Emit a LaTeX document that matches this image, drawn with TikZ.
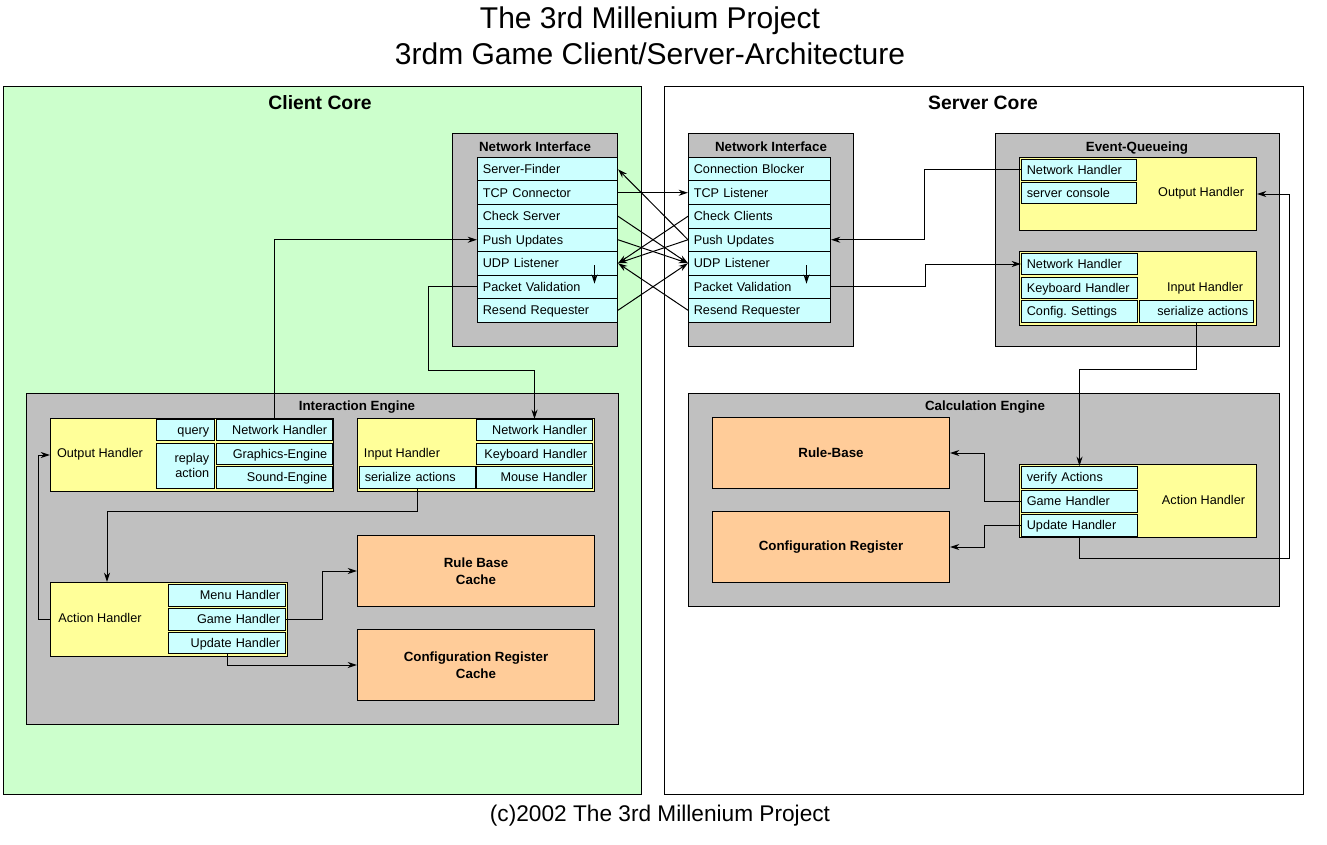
\documentclass[tikz,border=0pt]{standalone}
\usepackage{fontspec}
\setmainfont{Liberation Sans}
\usepackage{tikz}
\usetikzlibrary{positioning, arrows.meta, calc}

\definecolor{greenfill}{HTML}{CCFFCC}
\definecolor{grayfill}{HTML}{C0C0C0}
\definecolor{cyanfill}{HTML}{CCFFFF}
\definecolor{yellowfill}{HTML}{FFFF99}
\definecolor{orangefill}{HTML}{FFCC99}

\newcommand{\cellfont}{\fontsize{9.5}{11.25}\selectfont}
\newcommand{\headfont}{\bfseries\fontsize{10}{12.75}\selectfont}
\frenchspacing

\begin{document}
\begin{tikzpicture}
            [x=0.75pt, y=-0.75pt, line width=0.75pt,
             >={Stealth[length=7pt, width=4.5pt]},
             area/.style 2 args={draw, anchor=north west, inner sep=0pt,
                                 minimum width=#1*0.75pt, minimum height=#2*0.75pt},
             engine/.style 2 args={area={#1}{#2}, fill=grayfill},
             handler/.style 2 args={area={#1}{#2}, fill=yellowfill},
             store/.style 2 args={area={#1}{#2}, fill=orangefill, font=\headfont, align=center},
             cell/.style 2 args={draw, fill=cyanfill, anchor=north west, inner xsep=4pt, inner ysep=0pt,
                                 text width=#1*0.75pt-8pt, minimum height=#2*0.75pt,
                                 text height=7.5pt, text depth=1pt, font=\cellfont, align=left},
             rcell/.style 2 args={cell={#1}{#2}, align=right},
             head/.style={font=\headfont, text height=7.5pt, text depth=1pt},
             note/.style={font=\cellfont, text height=7.5pt, text depth=1pt}]

            \useasboundingbox (0,0) rectangle (1327,845);

            \node[align=center, font=\fontsize{22.5}{27}\selectfont] (title) at (650,36)
                {The 3rd Millenium Project\\3rdm Game Client/Server-Architecture};
            \node[font=\fontsize{17}{20}\selectfont] (foot) at (660,816) {(c)2002 The 3rd Millenium Project};

            \node[area={638}{708}, fill=greenfill] (cc) at (3,86) {};
            \node[area={639}{708}, fill=white] (sc) at (664,86) {};
            \node[font=\bfseries\fontsize{14.5}{17}\selectfont] (ccT) at (320,103) {Client Core};
            \node[font=\bfseries\fontsize{14.5}{17}\selectfont] (scT) at (983,103) {Server Core};

            \node[engine={165}{213}] (cni) at (452,133) {};
            \node[head] (cniT) at (535,147) {Network Interface};
            \foreach \n/\t [count=\i from 0] in {cSF/Server-Finder, cTCP/TCP Connector, cChk/Check Server,
                cPush/Push Updates, cUDP/UDP Listener, cPV/Packet Validation, cRes/Resend Requester}
                \node[cell={140}{23.5}] (\n) at (477,157+23.5*\i) {\t};

            \node[engine={165}{213}] (sni) at (688,133) {};
            \node[head] (sniT) at (771,147) {Network Interface};
            \foreach \n/\t [count=\i from 0] in {sCB/Connection Blocker, sTCP/TCP Listener, sChk/Check Clients,
                sPush/Push Updates, sUDP/UDP Listener, sPV/Packet Validation, sRes/Resend Requester}
                \node[cell={142}{23.5}] (\n) at (688,157+23.5*\i) {\t};

            \node[engine={284}{213}] (eq) at (995,133) {};
            \node[head] (eqT) at (1137,147) {Event-Queueing};
            \node[handler={237}{73}] (eOut) at (1019,157) {};
            \node[cell={115}{21}] (eoNet) at (1021,159) {Network Handler};
            \node[cell={115}{21}] (eoCon) at (1021,182) {server console};
            \node[note, anchor=east] (eOutT) at (1249,192) {Output Handler};
            \node[handler={237}{74}] (eIn) at (1019,251) {};
            \node[cell={116}{21}] (eiNet) at (1021,253) {Network Handler};
            \node[cell={116}{21}] (eiKey) at (1021,277) {Keyboard Handler};
            \node[cell={116}{22}] (eiCfg) at (1021,300) {Config. Settings};
            \node[rcell={114}{22}] (eiSer) at (1139,300) {serialize actions};
            \node[note, anchor=east] (eInT) at (1248,287) {Input Handler};

            \node[engine={591}{213}] (ce) at (688,393) {};
            \node[head] (ceT) at (985,406) {Calculation Engine};
            \node[store={237}{71}] (sRule) at (712,417) {Rule-Base};
            \node[store={237}{71}] (sConf) at (712,511) {Configuration Register};
            \node[handler={237}{73}] (sAct) at (1019,464) {};
            \node[cell={116}{22}] (aVer) at (1021,466) {verify Actions};
            \node[cell={116}{22}] (aGame) at (1021,490) {Game Handler};
            \node[cell={116}{22}] (aUpd) at (1021,514) {Update Handler};
            \node[note, anchor=east] (aT) at (1250,500) {Action Handler};

            \node[engine={592}{331}] (ie) at (26,393) {};
            \node[head] (ieT) at (357,406) {Interaction Engine};
            \node[handler={283}{73}] (coH) at (50,418) {};
            \node[rcell={58}{21}] (coQ) at (156,419) {query};
            \node[rcell={58}{45}, text depth=12.5pt] (coR) at (156,443) {replay\\action};
            \node[rcell={116}{21}] (coNet) at (216,419) {Network Handler};
            \node[rcell={116}{21}] (coGfx) at (216,443) {Graphics-Engine};
            \node[rcell={116}{22}] (coSnd) at (216,466) {Sound-Engine};
            \node[note] (coT) at (100,453) {Output Handler};
            \node[handler={237}{73}] (ciH) at (357,418) {};
            \node[rcell={116}{21}] (ciNet) at (476,419) {Network Handler};
            \node[rcell={116}{21}] (ciKey) at (476,443) {Keyboard Handler};
            \node[rcell={116}{22}] (ciMouse) at (476,466) {Mouse Handler};
            \node[cell={116}{22}] (ciSer) at (359,466) {serialize actions};
            \node[note] (ciT) at (402,453) {Input Handler};
            \node[handler={237}{74}] (caH) at (50,582) {};
            \node[rcell={117}{22}] (caMenu) at (168,584) {Menu Handler};
            \node[rcell={117}{22}] (caGame) at (168,608) {Game Handler};
            \node[rcell={117}{21}] (caUpd) at (168,632) {Update Handler};
            \node[note] (caT) at (100,618) {Action Handler};
            \node[store={237}{71}] (cRule) at (357,535) {Rule Base\\Cache};
            \node[store={237}{71}] (cConf) at (357,629) {Configuration Register\\Cache};

            \path [->] (cTCP.east) edge (sTCP.west);
            \path [->] (sPush.west) edge (cSF.east);
            \path [->] (cChk.east) edge (sUDP.west);
            \path [->] (cPush.east) edge (sUDP.west);
            \path [->] (cRes.east) edge (sUDP.west);
            \path [->] (sChk.west) edge (cUDP.east);
            \path [->] (sPush.west) edge (cUDP.east);
            \path [->] (sRes.west) edge (cUDP.east);
            \draw [->] ([shift={(47,2)}]cUDP.center) -- ([shift={(47,-3)}]cPV.center);
            \draw [->] ([shift={(47,2)}]sUDP.center) -- ([shift={(47,-3)}]sPV.center);

            \draw [->] (coNet.north) |- (cPush.west);
            \draw [->] (cPV.west) -| (428,370) -| (ciNet.north);
            \draw [->] (ciSer.south) -- ++(0,22) -| ($(caH.north west)+(57,0)$);
            \draw [->] (caH.west) -- ++(-12,0) |- (coH.west);
            \draw [->] (caGame.east) -- ++(36,0) |- (cRule.west);
            \draw [->] (caUpd.south) |- (cConf.west);

            \draw [->] (eoNet.west) -- ++(-97,0) |- (sPush.east);
            \draw [->] (sPV.east) -- ++(94,0) |- (eiNet.west);
            \draw [->] (eiSer.south) -- ++(0,46) -| (aVer.north);
            \draw [->] (aGame.west) -- ++(-37,0) |- (sRule.east);
            \draw [->] (aUpd.west) -- ++(-37,0) |- (sConf.east);
            \draw [->] (aUpd.south) -- ++(0,21) -- ++(210,0) |- (eOut.east);
        \end{tikzpicture}
\end{document}
